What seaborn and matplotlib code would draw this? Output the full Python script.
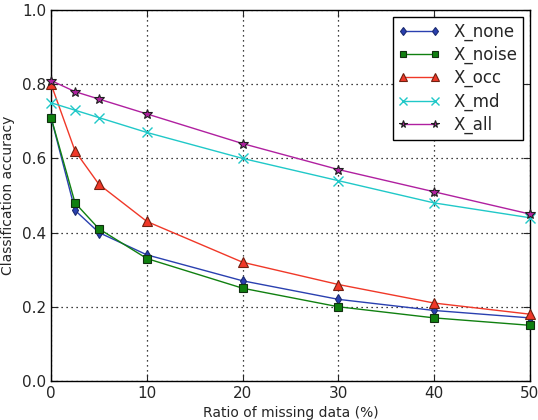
import matplotlib
matplotlib.use("Agg")
import matplotlib.pyplot as plt
import seaborn as sns
import pandas as pd

ratio = [0, 2.5, 5, 10, 20, 30, 40, 50]
x_none = [0.71, 0.46, 0.40, 0.34, 0.27, 0.22, 0.19, 0.17]
x_noise = [0.71, 0.48, 0.41, 0.33, 0.25, 0.20, 0.17, 0.15]
x_occ = [0.80, 0.62, 0.53, 0.43, 0.32, 0.26, 0.21, 0.18]
x_md = [0.75, 0.73, 0.71, 0.67, 0.60, 0.54, 0.48, 0.44]
x_all = [0.81, 0.78, 0.76, 0.72, 0.64, 0.57, 0.51, 0.45]
names = ["X_none", "X_noise", "X_occ", "X_md", "X_all"]
series = [x_none, x_noise, x_occ, x_md, x_all]

sns.set_style("ticks")
plt.rcParams['font.family'] = ['DejaVu Sans']

fig = plt.figure(figsize=(5.38, 4.2), dpi=100)
ax = fig.add_axes([0.095, 0.093, 0.89, 0.883])

styles = [
    dict(color="#2a40b0", marker="d", markersize=5.5, mec="#1a2a70"),
    dict(color="#108010", marker="s", markersize=6, mec="#103010"),
    dict(color="#f03828", marker="^", markersize=6.5, mec="#702010"),
    dict(color="#20c8c8", marker="x", markersize=6.5, mec="#20c8c8", mew=1.0),
    dict(color="#b020a0", marker="*", markersize=7, mec="#202020"),
]

for name, vals, st in zip(names, series, styles):
    df = pd.DataFrame({"ratio": ratio, "acc": vals})
    sns.lineplot(data=df, x="ratio", y="acc", ax=ax, label=name,
                 color=st["color"], marker=st["marker"],
                 markersize=st["markersize"], markeredgecolor=st["mec"],
                 markeredgewidth=st.get("mew", 0.8), linewidth=1.0,
                 clip_on=False, zorder=3)

ax.set_xlim(0, 50)
ax.set_ylim(0, 1.0)
ax.set_xticks([0, 10, 20, 30, 40, 50])
ax.set_yticks([0.0, 0.2, 0.4, 0.6, 0.8, 1.0])
ax.set_yticklabels(["0.0", "0.2", "0.4", "0.6", "0.8", "1.0"])
ax.grid(True, linestyle=(0, (1, 3)), color="black", linewidth=0.9)
ax.tick_params(direction="in", top=True, right=True, length=5, labelsize=11, width=0.8)
for s in ax.spines.values():
    s.set_visible(True)
    s.set_color("black")
    s.set_linewidth(1.0)
ax.set_xlabel("Ratio of missing data (%)", fontsize=10)
ax.set_ylabel("Classification accuracy", fontsize=10)
ax.yaxis.set_label_coords(-0.075, 0.5)

leg = ax.legend(loc="upper right", numpoints=2, fontsize=12, frameon=True,
                fancybox=False, edgecolor="black", framealpha=1,
                handlelength=2.5, borderpad=0.35, labelspacing=0.3,
                markerscale=0.8, borderaxespad=0.4)
leg.get_frame().set_linewidth(1.0)

fig.savefig("out.png", dpi=100)
